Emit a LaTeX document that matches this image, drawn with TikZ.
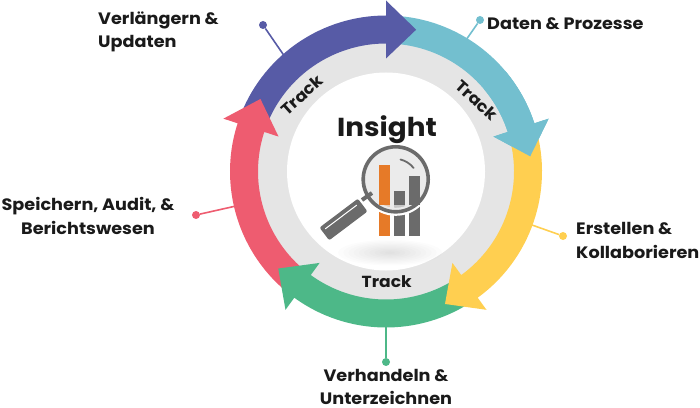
\documentclass[tikz,border=0pt]{standalone}
\usepackage{fontspec}
\setmainfont{Poppins}[FakeStretch=1.07]
\definecolor{cblue}{HTML}{575BA6}
\definecolor{cteal}{HTML}{73BFCF}
\definecolor{cyellow}{HTML}{FFCF50}
\definecolor{cgreen}{HTML}{4DB888}
\definecolor{cred}{HTML}{EE5C70}
\definecolor{cgrey}{HTML}{E5E5E5}
\definecolor{cdark}{HTML}{6B6B6B}
\definecolor{corange}{HTML}{E67A28}
\definecolor{ctext}{HTML}{1A1A1A}
\newcommand{\ringarrow}[3]{%
  \fill[#1] (#2:156) arc[start angle=#2,end angle=#3,radius=156]
    -- (#3:171) -- ({#3-12}:145) -- (#3:113) -- (#3:128)
    arc[start angle=#3,end angle=#2,radius=128] -- cycle;}
\tikzset{
  x=1pt,y=1pt,
  lab/.style={font=\bfseries\fontsize{16.5}{23.5}\selectfont,text=ctext,inner sep=0pt,align=#1},
  lab/.default=left,
  tracklab/.style={font=\bfseries\fontsize{16}{18}\selectfont,text=ctext,inner sep=0pt},
  dot/.style={circle,inner sep=0pt,minimum size=8pt,fill=#1},
  leader/.style={line width=1.6pt,draw=#1},
  bar/.style={fill=cdark},
}
\begin{document}
\begin{tikzpicture}
\useasboundingbox (0,0) rectangle (700,407);
\node[dot=cblue] (d1) at (263,382) {};
\coordinate (e1) at (285,350);
\node[dot=cteal] (d2) at (480,387) {};
\coordinate (e2) at (466,367);
\node[dot=cyellow] (d3) at (563,171) {};
\coordinate (e3) at (532,182);
\node[dot=cgreen] (d4) at (386,45) {};
\coordinate (e4) at (386,85);
\node[dot=cred] (d5) at (196,192) {};
\coordinate (e5) at (236,201);
\draw[leader=cblue] (d1) -- (e1);
\draw[leader=cteal] (d2) -- (e2);
\draw[leader=cyellow] (d3) -- (e3);
\draw[leader=cgreen] (d4) -- (e4);
\draw[leader=cred] (d5) -- (e5);
\begin{scope}[shift={(386,235.5)}]
  \fill[cgrey] (0,0) circle[radius=130];
  \fill[white] (0,0) circle[radius=99];
  \ringarrow{cteal}{85}{18}
  \ringarrow{cblue}{158}{90}
  \ringarrow{cred}{232}{162}
  \ringarrow{cgreen}{304}{234}
  \ringarrow{cyellow}{16}{-54}
  \ringarrow{cteal}{40}{18}
\end{scope}
% soft shadow
\foreach \k in {1,...,10}
  \fill[black,opacity=.011] (390,154.3) ellipse[x radius={5.2*\k},y radius={1.28*\k}];
% bars
\fill[corange] (378.5,170.5) rectangle (390,242);
\fill[bar] (393.5,170.5) rectangle (404.5,215.5);
\fill[bar] (408.7,170.5) rectangle (420,230.5);
% lens
\draw[white,line width=8pt] (395.7,227.7) circle[radius=32.5];
\fill[cgrey,opacity=.75] (395.7,227.7) circle[radius=31];
\fill[corange] (378.5,202) rectangle (390,242);
\fill[bar] (393.5,202) rectangle (404.5,215.5);
\fill[bar] (408.7,202) rectangle (420,230.5);
\draw[cdark,line width=3.6pt] (395.7,227.7) circle[radius=32.5];
\draw[cdark,line width=1.8pt,line cap=round] (400.5,247.5) arc[start angle=76,end angle=38,radius=24];
% handle
\draw[cdark,line width=4pt] (362,207) -- (372,214);
\begin{scope}[shift={(343.5,187.5)},rotate=37]
  \fill[cdark,rounded corners=2pt] (-24,-8) rectangle (24,8);
  \draw[white,line width=1pt,line cap=round] (-20,3.5) -- (19,3.5);
\end{scope}
% texts
\node[font=\bfseries\fontsize{26}{30}\selectfont,text=ctext,inner sep=0pt] (title) at (387,277) {Insight};
\node[tracklab] (t1) at (386.7,125) {Track};
\node[tracklab,rotate=42] (t2) at (301.7,312) {Track};
\node[tracklab,rotate=-42] (t3) at (476.7,307) {Track};
\node[lab=left,anchor=west] (l1) at (98,375) {Verlängern \&\\Updaten};
\node[lab=left,anchor=west] (l2) at (487,383) {Daten \& Prozesse};
\node[lab=left,anchor=west] (l3) at (576,166.5) {Erstellen \&\\Kollaborieren};
\node[lab=center] (l4) at (386,20) {Verhandeln \&\\Unterzeichnen};
\node[lab=center] (l5) at (88,191) {Speichern, Audit, \&\\Berichtswesen};
\end{tikzpicture}
\end{document}
